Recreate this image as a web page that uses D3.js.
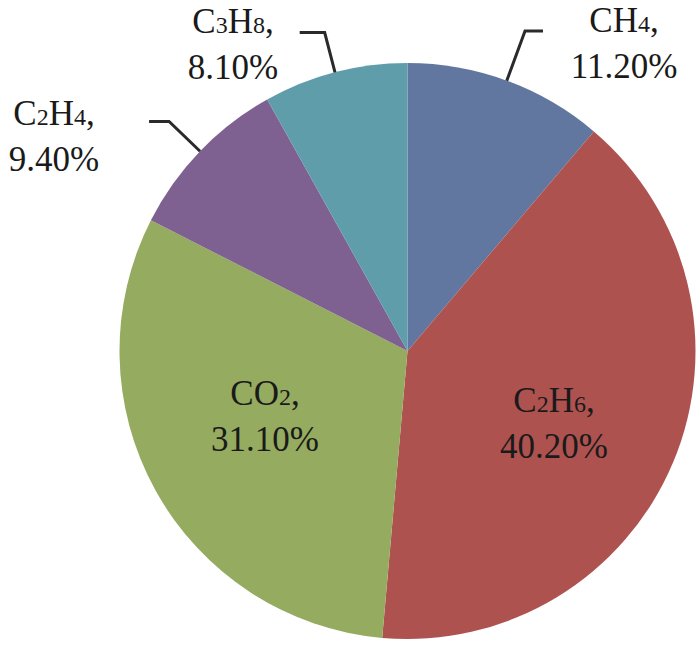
<!DOCTYPE html>
<html>
<head>
<meta charset="utf-8">
<script src="https://cdn.jsdelivr.net/npm/d3@7"></script>
<style>
  html, body { margin: 0; padding: 0; background: #fff; }
  #chart { width: 700px; height: 645px; }
</style>
</head>
<body>
<div id="chart"></div>
<script>
// gas names split into [text, isSubscript] pieces
const gases = [
    [["CH", 0], ["4", 1], [",", 0]],
    [["C", 0], ["2", 1], ["H", 0], ["6", 1], [",", 0]],
    [["CO", 0], ["2", 1], [",", 0]],
    [["C", 0], ["2", 1], ["H", 0], ["4", 1], [",", 0]],
    [["C", 0], ["3", 1], ["H", 0], ["8", 1], [",", 0]]
];
const percents = [11.2, 40.2, 31.1, 9.4, 8.1];
const percentLabels = ["11.20%", "40.20%", "31.10%", "9.40%", "8.10%"];
const colors = ["#61779f", "#ae5250", "#95ab5f", "#7e6190", "#5f9dab"];

function createChart(containerId) {
    const width = 700, height = 645;
    const cx = 407.5, cy = 351, radius = 288;
    const font = "Liberation Serif";

    // layout: leader elbow radius (0 = no leader), tail length, label centre + first baseline
    const elbowR = [341, 0, 0, 331, 329];
    const tail = [18, 0, 0, 20, 25];
    const labelPos = [[624, 32], [554, 412], [265, 405], [54, 125], [233, 33]];

    const svg = d3.select(`#${containerId}`).append("svg")
        .attr("width", width)
        .attr("height", height);

    const g = svg.append("g").attr("transform", `translate(${cx},${cy})`);

    const data = percents.map((v, i) => ({ value: v, i }));
    const pie = d3.pie().sort(null).value(d => d.value);
    const arcs = pie(data);
    const arc = d3.arc().innerRadius(0).outerRadius(radius);

    g.selectAll("path.slice")
        .data(arcs)
        .enter().append("path")
        .attr("class", "slice")
        .attr("d", arc)
        .attr("fill", d => colors[d.data.i]);

    const mid = d => (d.startAngle + d.endAngle) / 2;
    const polar = (a, r) => [r * Math.sin(a), -r * Math.cos(a)];

    // leader lines
    arcs.filter(d => elbowR[d.data.i] > 0).forEach(d => {
        const a = mid(d);
        const p0 = polar(a, radius);
        const p1 = polar(a, elbowR[d.data.i]);
        const dir = Math.sin(a) >= 0 ? 1 : -1;
        const p2 = [p1[0] + dir * tail[d.data.i], p1[1]];
        g.append("path")
            .attr("d", d3.line()([p0, p1, p2]))
            .attr("fill", "none")
            .attr("stroke", "#2a2a2a")
            .attr("stroke-width", 3);
    });

    const fs = 35, subFs = 24, lineGap = 46;

    arcs.forEach(d => {
        const i = d.data.i;
        const [x, y] = labelPos[i];
        const t = svg.append("text")
            .attr("text-anchor", "middle")
            .attr("font-family", font)
            .attr("font-size", fs)
            .attr("fill", "#1a1a1a");
        const l1 = t.append("tspan").attr("x", x).attr("y", y);
        gases[i].forEach(part => {
            l1.append("tspan")
                .attr("font-size", part[1] ? subFs : fs)
                .text(part[0]);
        });
        t.append("tspan")
            .attr("x", x)
            .attr("y", y + lineGap)
            .text(percentLabels[i]);
    });
}

createChart("chart");
</script>
</body>
</html>
